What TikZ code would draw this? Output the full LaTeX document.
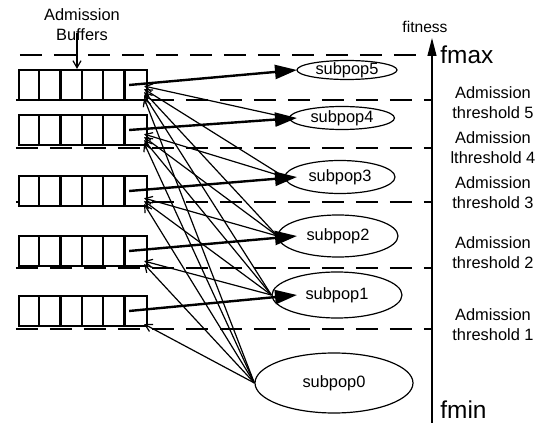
\documentclass[tikz,border=0pt]{standalone}
\usepackage{fontspec}
\setmainfont{Liberation Sans}
\usetikzlibrary{positioning,shapes.geometric,arrows.meta,calc}

\begin{document}
\begin{tikzpicture}[x=0.5pt,y=-0.5pt,
   font=\fontsize{8.2}{10}\selectfont,
   buffer/.style={draw,fill=white,line width=1.1pt,minimum width=64pt,minimum height=15pt,inner sep=0pt},
   subpop/.style={draw,ellipse,line width=0.6pt,inner sep=0pt,text height=4.4pt,text depth=0pt},
   thresh/.style={dash pattern=on 11pt off 6pt,line width=0.6pt},
   fwd/.style={line width=1.2pt,-{Triangle[length=11pt,width=7pt]}},
   mig/.style={line width=0.6pt,-{Straight Barb[length=3.5pt,width=4pt]}}]
\useasboundingbox (0,0) rectangle (543,423);
% admission thresholds
\draw[thresh] (20,55) -- (420,55);
\foreach \y in {100,148,202,268,329} \draw[thresh] (16,\y) -- (432,\y);
% buffers
\node[buffer] (buf5) at (83,85) {};
\node[buffer] (buf4) at (83,130) {};
\node[buffer] (buf3) at (83,191) {};
\node[buffer] (buf2) at (83,251) {};
\node[buffer] (buf1) at (83,311) {};
\foreach \k in {1,...,5} \foreach \c in {1,...,5}
   \draw[line width=1.1pt] ($(buf\k.south west)+(\c*21.33,0)$) -- ($(buf\k.north west)+(\c*21.33,0)$);
% subpopulations
\node[subpop,minimum width=50pt,minimum height=9.5pt] (sp5) at (347,70) {subpop5};
\node[subpop,minimum width=52.5pt,minimum height=11.5pt] (sp4) at (342,118) {subpop4};
\node[subpop,minimum width=55pt,minimum height=16.5pt] (sp3) at (340,177) {subpop3};
\node[subpop,minimum width=60pt,minimum height=21pt] (sp2) at (338,236) {subpop2};
\node[subpop,minimum width=65pt,minimum height=23pt] (sp1) at (337,295) {subpop1};
\node[subpop,minimum width=79pt,minimum height=30pt] (sp0) at (334,383) {subpop0};
% buffer -> subpop
\coordinate (tipx) at (297,0);
\foreach \k in {1,...,5} \draw[fwd] ($(buf\k.east)+(-19,0)$) -- (tipx |- sp\k.center);
% subpop -> higher buffers
\foreach \i [evaluate=\i as \n using int(\i+1)] in {0,...,4}
   \foreach \j in {\n,...,5}
      \draw[mig] (sp\i.west) -- ($(buf\j.south east)+(-4,{-3-3*\i})$);
% fitness axis
\coordinate (axbot) at (432,423);
\coordinate (axtop) at (432,38);
\draw[line width=0.6pt,-{Triangle[length=9pt,width=4.5pt]}] (axbot) -- (axtop);
\node[font=\fontsize{7.8}{9}\selectfont] (fitlbl) at (425,27) {fitness};
\node[anchor=west,inner sep=0pt,font=\fontsize{12.2}{14}\selectfont] (fmax) at (440,55) {fmax};
\node[anchor=west,inner sep=0pt,font=\fontsize{12.2}{14}\selectfont] (fmin) at (440,410) {fmin};
\node[align=center] (th5) at (493,103) {Admission\\threshold 5};
\node[align=center] (th4) at (493,148) {Admission\\lthreshold 4};
\node[align=center] (th3) at (493,193) {Admission\\threshold 3};
\node[align=center] (th2) at (493,253) {Admission\\threshold 2};
\node[align=center] (th1) at (493,325) {Admission\\threshold 1};
% buffer label
\node[align=center] (buflbl) at (82,25) {Admission\\Buffers};
\coordinate (bufarr) at (77,33);
\draw[mig] (bufarr) -- (bufarr |- buf5.north);
\end{tikzpicture}
\end{document}
